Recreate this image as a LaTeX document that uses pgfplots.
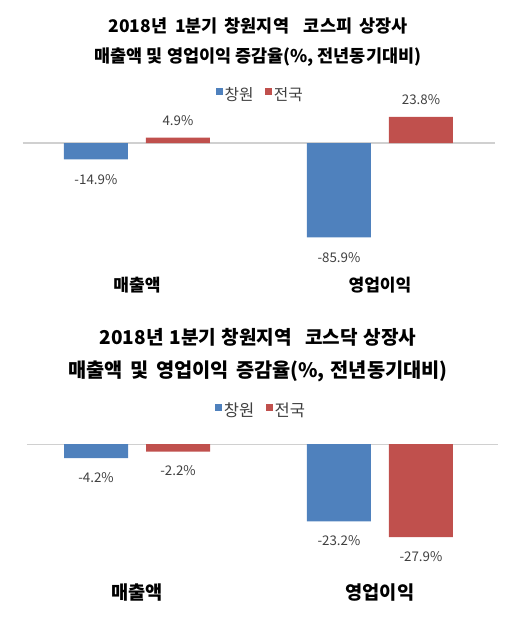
\documentclass[border=0pt]{standalone}
\usepackage{fontspec}
\setmainfont{Noto Sans CJK KR}
\usepackage{pgfplots}
\pgfplotsset{compat=1.18}

\definecolor{cwblue}{HTML}{4F81BD}
\definecolor{nared}{HTML}{C0504D}
\definecolor{lbl}{HTML}{404040}
\definecolor{zeroline}{HTML}{D0D0D0}

% shared look of both panels (1px = 0.75pt)
\pgfplotsset{
  panel/.style={
    scale only axis,
    anchor=south west,
    ybar=13.5pt,
    bar width=48pt,
    axis line style={draw=none},
    major tick length=0pt,
    ytick=\empty,
    xtick={0,1},
    xticklabels={매출액,영업이익},
    xticklabel style={anchor=center, font=\bfseries\fontsize{#1}{#1}\selectfont, text=black},
    extra y ticks={0},
    extra y tick labels={},
    extra y tick style={grid=major, grid style={zeroline, line width=0.9pt}},
    /pgf/number format/assume math mode=true,
    nodes near coords={\pgfmathprintnumber[fixed,fixed zerofill,precision=1]{\pgfplotspointmeta}\%},
    nodes near coords style={font=\fontsize{10}{12}\selectfont, text=lbl},
    legend columns=2,
    legend style={draw=none, fill=none, anchor=center,
      font=\fontsize{11.8}{13}\selectfont, text=lbl,
      /tikz/every even column/.append style={column sep=7pt},
      nodes={inner xsep=1.5pt}},
    legend image code/.code={\fill[##1] (0pt,-0.3pt) rectangle (5.25pt,4.95pt);},
  },
}

\begin{document}
\begin{tikzpicture}
\useasboundingbox (0,0) rectangle (387.75pt,-463.5pt);

% ---- panel 1: KOSPI
\node[font=\bfseries\fontsize{13.1}{16}\selectfont] at (193.5pt,-19.5pt)
  {2018년\hspace{0.45em}1분기\hspace{0.4em}창원지역\hspace{0.85em}코스피\hspace{0.4em}상장사};
\node[font=\bfseries\fontsize{13.1}{16}\selectfont] at (193.5pt,-42.75pt)
  {매출액 및 영업이익 증감율(\%, 전년동기대비)};

\begin{axis}[panel=12.8,
  at={(17pt,-213.75pt)},
  width=354.2pt, height=131.25pt,
  xmin=-0.470, xmax=1.473,
  ymin=-129.1, ymax=30,
  legend style={at={(0.503,1.086)}},
]
\addplot[fill=cwblue, draw=none, nodes near coords style={inner sep=11pt}]
  coordinates {(0,-14.9) (1,-85.9)};
\addplot[fill=nared, draw=none, nodes near coords style={inner sep=8.7pt}]
  coordinates {(0,4.9) (1,23.8)};
\legend{창원,전국}
\end{axis}

% ---- panel 2: KOSDAQ
\node[font=\bfseries\fontsize{14.3}{17}\selectfont] at (193.5pt,-252.75pt)
  {2018년\hspace{0.3em}1분기\hspace{0.3em}창원지역\hspace{0.7em}코스닥\hspace{0.3em}상장사};
\node[font=\bfseries\fontsize{14.8}{17}\selectfont] at (193.5pt,-278.25pt)
  {매출액\hspace{0.38em}및\hspace{0.38em}영업이익\hspace{0.38em}증감율(\%,\hspace{0.3em}전년동기대비)};

\begin{axis}[panel=14,
  at={(20.25pt,-444.75pt)},
  width=353.25pt, height=129.6pt,
  xmin=-0.453, xmax=1.486,
  ymin=-44.7, ymax=7.2,
  legend style={at={(0.497,1.058)}, font=\fontsize{12.4}{14}\selectfont},
]
\addplot[fill=cwblue, draw=none, nodes near coords style={inner sep=10.6pt}]
  coordinates {(0,-4.2) (1,-23.2)};
\addplot[fill=nared, draw=none, nodes near coords style={inner sep=10.6pt}]
  coordinates {(0,-2.2) (1,-27.9)};
\legend{창원,전국}
\end{axis}
\end{tikzpicture}
\end{document}
